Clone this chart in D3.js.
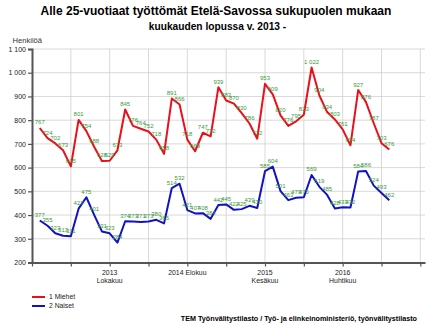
<!DOCTYPE html>
<html><head><meta charset="utf-8">
<script src="https://cdn.jsdelivr.net/npm/d3@7"></script>
<style>
body{margin:0;background:#fff;}
svg{font-family:"Liberation Sans",Arial,sans-serif;}
</style></head>
<body>
<svg id="c" width="432" height="324"></svg>
<script>
// Months: index 0 = January 2013 ... index 45 = October 2016
const startYear = 2013;
const miehet = [767,724,702,673,605,801,754,688,628,629,673,845,776,764,752,718,658,891,866,718,669,747,732,939,883,870,830,786,722,953,909,820,776,795,823,1022,904,834,803,761,694,927,876,787,703,676];
const naiset = [377,355,323,313,311,427,475,401,331,323,284,374,373,371,373,380,365,514,532,421,407,408,384,442,445,422,425,439,430,585,604,501,463,473,475,569,519,485,428,433,432,584,586,524,493,462];
const yTicks = [200,300,400,500,600,700,800,900,1000,1100];
const xTickMonths = [-1,4,9,14,19,24,29,34,39,44,49];
const xLabels = [{m:9, lines:["2013","Lokakuu"]},{m:19, lines:["2014 Elokuu"]},{m:29, lines:["2015","Kesäkuu"]},{m:39, lines:["2016","Huhtikuu"]}];
const seriesNames = ["1 Miehet","2 Naiset"];
const colors = ["#e8101a","#1212c4"];
const labelColor = "#3c9a3c";

const svg = d3.select("#c");
const x = d3.scaleLinear().domain([-1, 49.6]).range([32, 425]);
const y = d3.scaleLinear().domain([200, 1100]).range([262.5, 49]);
const fmt = v => d3.format(",")(v).replace(/,/g, " ");

// Titles
svg.append("text").attr("x",216).attr("y",15).attr("text-anchor","middle")
  .attr("font-size",12).attr("font-weight","bold").attr("fill","#000")
  .text("Alle 25-vuotiaat työttömät Etelä-Savossa sukupuolen mukaan");
svg.append("text").attr("x",217.5).attr("y",30).attr("text-anchor","middle")
  .attr("font-size",10.2).attr("font-weight","bold").attr("fill","#000")
  .text("kuukauden lopussa v. 2013 -");
svg.append("text").attr("x",12.5).attr("y",43).attr("font-size",7.6).attr("fill","#333").text("Henkilöä");

// Grid
const g = svg.append("g");
g.selectAll(".hg").data(yTicks).join("line")
  .attr("x1",32).attr("x2",425).attr("y1",d=>y(d)).attr("y2",d=>y(d))
  .attr("stroke","#cfcfcf").attr("stroke-width",0.8);
g.selectAll(".vg").data(xTickMonths.slice(1)).join("line")
  .attr("x1",d=>x(d)).attr("x2",d=>x(d)).attr("y1",y(1100)).attr("y2",y(200))
  .attr("stroke","#cfcfcf").attr("stroke-width",0.8);

// Y axis
const ya = svg.append("g").attr("transform","translate(32,0)")
  .call(d3.axisLeft(y).tickValues(yTicks).tickFormat(fmt).tickSize(4).tickPadding(2));
ya.select(".domain").attr("stroke","#555").attr("stroke-width",2);
ya.selectAll(".tick line").attr("stroke","#555").attr("stroke-width",1.2);
ya.selectAll(".tick text").attr("font-size",7).attr("fill","#222").attr("font-family","Liberation Sans, Arial, sans-serif");

// X axis
const xa = svg.append("g").attr("transform",`translate(0,${y(200)})`)
  .call(d3.axisBottom(x).tickValues(xTickMonths).tickFormat("").tickSize(4).tickSizeOuter(0));
xa.select(".domain").attr("stroke","#555").attr("stroke-width",2);
xa.selectAll(".tick line").attr("stroke","#555").attr("stroke-width",1.2);
const xl = svg.append("g").selectAll("text").data(xLabels).join("text")
  .attr("text-anchor","middle").attr("font-size",6.9).attr("fill","#222")
  .attr("transform",d=>`translate(${x(d.m)},${y(200)+12})`);
xl.selectAll("tspan").data(d=>d.lines).join("tspan").attr("x",0).attr("dy",(d,i)=>i?8.5:0).text(d=>d);

// Lines
const line = d3.line().x((d,i)=>x(i)).y(d=>y(d));
[miehet, naiset].forEach((s,k)=>{
  svg.append("path").datum(s).attr("d",line).attr("fill","none")
    .attr("stroke",colors[k]).attr("stroke-width",2).attr("stroke-linejoin","round");
});
// Data labels
[miehet, naiset].forEach((s,k)=>{
  svg.append("g").selectAll("text").data(s).join("text")
    .attr("x",(d,i)=>x(i)).attr("y",d=>y(d)-3.5).attr("text-anchor","middle")
    .attr("font-size",6).attr("fill",labelColor).text(d=>fmt(d));
});

// Legend
const lg = svg.append("g").selectAll("g").data(seriesNames).join("g")
  .attr("transform",(d,i)=>`translate(32,${297+i*9})`);
lg.append("line").attr("x1",0).attr("x2",13).attr("stroke",(d,i)=>colors[i]).attr("stroke-width",2);
lg.append("text").attr("x",17).attr("y",2.4).attr("font-size",6.8).attr("fill","#222").text(d=>d);

// Source
svg.append("text").attr("x",417).attr("y",321).attr("text-anchor","end")
  .attr("font-size",7.2).attr("font-weight","bold").attr("fill","#000")
  .text("TEM Työnvälitystilasto / Työ- ja elinkeinoministeriö, työnvälitystilasto");
</script>
</body></html>
